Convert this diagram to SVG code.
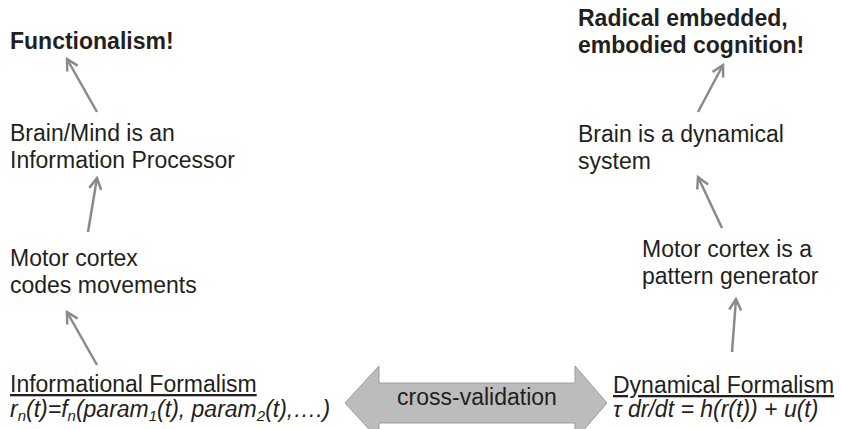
<svg xmlns="http://www.w3.org/2000/svg" width="841" height="429" viewBox="0 0 841 429">
<defs>
<style>
text{font-family:"Liberation Sans",Arial,sans-serif;font-size:23px;fill:#231f20}
.b{font-weight:bold}
.i{font-style:italic}
.u{text-decoration:underline}
.c{fill:none;stroke:#8a8a8a;stroke-width:2.5}
</style>
<marker id="ah" viewBox="0 0 14 14" refX="12" refY="7" markerWidth="14" markerHeight="14" markerUnits="userSpaceOnUse" orient="auto">
<path d="M1,1 L12,7 L1,13" fill="none" stroke="#8a8a8a" stroke-width="2.5"/>
</marker>
</defs>
<rect width="841" height="429" fill="#fff"/>
<g id="connectors">
<line class="c" x1="97" y1="112" x2="67" y2="59" marker-end="url(#ah)"/>
<line class="c" x1="88" y1="232" x2="97" y2="178" marker-end="url(#ah)"/>
<line class="c" x1="97" y1="365" x2="67" y2="312" marker-end="url(#ah)"/>
<line class="c" x1="698" y1="112" x2="723" y2="65" marker-end="url(#ah)"/>
<line class="c" x1="722" y1="228" x2="698" y2="177" marker-end="url(#ah)"/>
<line class="c" x1="732" y1="352" x2="736" y2="299" marker-end="url(#ah)"/>
</g>
<g id="cross-validation">
<path d="M345,403 L379,366 L379,383 L575,383 L575,366 L607,403 L575,440 L575,423 L379,423 L379,440 Z" fill="#bcbcbc" stroke="#9c9c9c" stroke-width="1"/>
<text x="477" y="405" text-anchor="middle">cross-validation</text>
</g>
<g id="functionalism"><text class="b" x="10" y="49">Functionalism!</text></g>
<g id="brain-mind"><text x="10" y="141">Brain/Mind is an</text><text x="10" y="168">Information Processor</text></g>
<g id="motor-codes"><text x="10" y="266">Motor cortex</text><text x="10" y="293">codes movements</text></g>
<g id="informational"><text class="u" x="10" y="392">Informational Formalism</text><text class="i" x="10" y="417">r<tspan font-size="15" dy="4">n</tspan><tspan dy="-4">(t)=f</tspan><tspan font-size="15" dy="4">n</tspan><tspan dy="-4">(param</tspan><tspan font-size="15" dy="4">1</tspan><tspan dy="-4">(t), param</tspan><tspan font-size="15" dy="4">2</tspan><tspan dy="-4">(t),….)</tspan></text></g>
<g id="radical"><text class="b" x="578" y="26">Radical embedded,</text><text class="b" x="578" y="53">embodied cognition!</text></g>
<g id="brain-dyn"><text x="578" y="142">Brain is a dynamical</text><text x="578" y="169">system</text></g>
<g id="motor-pattern"><text x="642" y="257">Motor cortex is a</text><text x="642" y="284">pattern generator</text></g>
<g id="dynamical"><text class="u" x="613" y="393">Dynamical Formalism</text><text class="i" x="613" y="417">τ dr/dt = h(r(t)) + u(t)</text></g>
</svg>
